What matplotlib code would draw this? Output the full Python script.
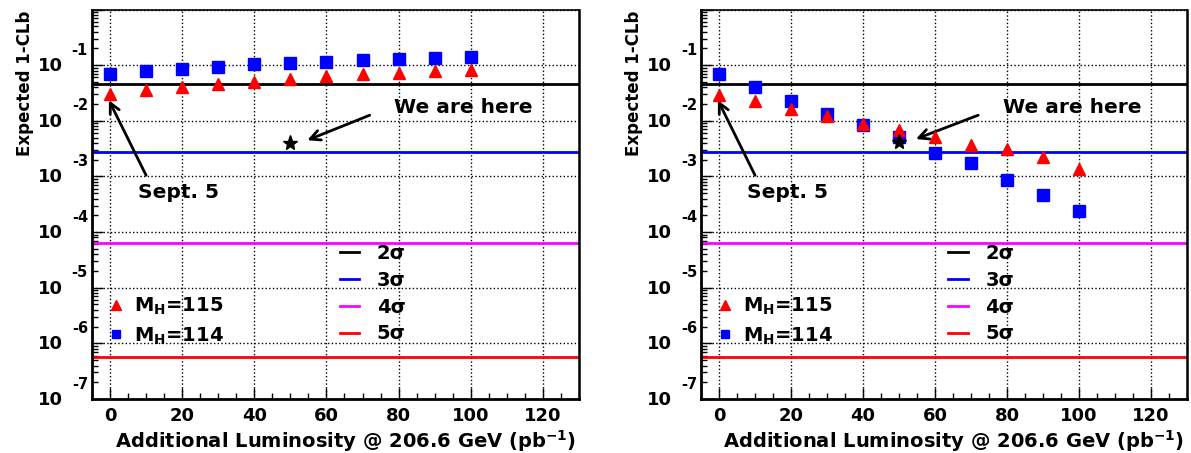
import numpy as np
import matplotlib
matplotlib.use("Agg")
import matplotlib.pyplot as plt
from matplotlib.ticker import MultipleLocator, LogLocator, NullFormatter

plt.rcParams['font.family'] = ['DejaVu Sans']
plt.rcParams['font.weight'] = 'bold'
plt.rcParams['mathtext.fontset'] = 'dejavusans'
plt.rcParams['mathtext.default'] = 'bf'

# additional luminosity points (pb^-1)
lumi = [0, 10, 20, 30, 40, 50, 60, 70, 80, 90, 100]

# expected 1-CLb, left panel
left_mh115 = [0.030, 0.0355, 0.040, 0.046, 0.050, 0.057, 0.063, 0.069, 0.073, 0.078, 0.082]
left_mh114 = [0.069, 0.077, 0.085, 0.093, 0.103, 0.111, 0.115, 0.122, 0.127, 0.134, 0.141]

# expected 1-CLb, right panel
right_mh115 = [0.029, 0.023, 0.0166, 0.0121, 0.0089, 0.0068, 0.0051, 0.0036, 0.0031, 0.0022, 0.00136]
right_mh114 = [0.069, 0.040, 0.0228, 0.0135, 0.0083, 0.0051, 0.0026, 0.00175, 0.00085, 0.00046, 0.00024]

# "we are here" star
star_lumi = 50
left_star = 0.0040
right_star = 0.0042

# significance lines
sigma_labels = ['2σ', '3σ', '4σ', '5σ']
sigma_pvalues = [0.0455, 0.0027, 6.33e-5, 5.73e-7]
sigma_colors = ['black', 'blue', '#ff00ff', 'red']

decades = [-7, -6, -5, -4, -3, -2, -1]

# annotation anchors (data coords)
here_text = (98, 0.0176)
here_tail = (72, 0.0126)
sept_text = (19, 5.2e-4)
sept_tail = (10, 1.05e-3)
sept_head = (-0.3, 0.0234)


def draw_panel(ax, mh115, mh114, star_value):
    ax.set_yscale('log')
    ax.set_xlim(-5, 130)
    ax.set_ylim(1e-7, 1)

    ax.grid(True, which='major', color='black', linestyle=':', linewidth=1)

    lines = []
    for p, c, lab in zip(sigma_pvalues, sigma_colors, sigma_labels):
        ln = ax.axhline(p, color=c, lw=2, label=lab, zorder=2)
        lines.append(ln)

    sq, = ax.plot(lumi, mh114, 's', color='blue', ms=8, zorder=3)
    tri, = ax.plot(lumi, mh115, '^', color='red', ms=9, zorder=4)
    ax.plot([star_lumi], [star_value], '*', color='black', ms=11, zorder=5)

    # arrows + labels
    arrow = dict(arrowstyle='->', lw=2, color='black',
                 mutation_scale=18, shrinkA=0, shrinkB=0)
    ax.annotate('', xy=(star_lumi + 4.7, star_value * 1.12), xytext=here_tail,
                arrowprops=arrow)
    ax.text(*here_text, 'We are here', ha='center', va='center', fontsize=14.5)
    ax.annotate('', xy=sept_head, xytext=sept_tail, arrowprops=arrow)
    ax.text(*sept_text, 'Sept. 5', ha='center', va='center', fontsize=14.5)

    leg1 = ax.legend(handles=lines, loc='upper left', bbox_to_anchor=(0.509, 0.398),
                     frameon=False, fontsize=14, handlelength=1.0, handletextpad=0.9,
                     labelspacing=0.4, borderpad=0, borderaxespad=0)
    ax.add_artist(leg1)
    ax.legend(handles=[tri, sq], labels=['$M_H$=115', '$M_H$=114'],
              loc='upper left', bbox_to_anchor=(0.033, 0.264), frameon=False,
              fontsize=14, handlelength=0.8, handletextpad=0.55, labelspacing=0.4,
              borderpad=0, borderaxespad=0, markerscale=0.75)

    ax.xaxis.set_major_locator(MultipleLocator(20))
    ax.xaxis.set_minor_locator(MultipleLocator(5))
    ax.yaxis.set_major_locator(LogLocator(base=10, numticks=20))
    ax.yaxis.set_minor_locator(LogLocator(base=10, subs=np.arange(2, 10), numticks=20))
    ax.yaxis.set_major_formatter(NullFormatter())
    ax.yaxis.set_minor_formatter(NullFormatter())
    ax.tick_params(which='both', direction='in', top=False, right=False)
    ax.tick_params(which='major', length=8, width=1)
    ax.tick_params(which='minor', length=4, width=1)
    ax.tick_params(axis='x', labelsize=13, pad=6)

    for k in decades:
        ax.annotate('10', xy=(0, 10.0 ** k), xycoords=('axes fraction', 'data'),
                    xytext=(-29, -1), textcoords='offset pixels',
                    ha='right', va='center', fontsize=13)
        ax.annotate(str(k), xy=(0, 10.0 ** k), xycoords=('axes fraction', 'data'),
                    xytext=(-4, 15), textcoords='offset pixels',
                    ha='right', va='center', fontsize=10.5)

    for s in ax.spines.values():
        s.set_linewidth(1.2)
    ax.spines['left'].set_linewidth(2)
    ax.spines['bottom'].set_linewidth(2)
    ax.spines['right'].set_linewidth(1.8)

    ax.text(-0.1376, 0.998, 'Expected 1-CLb', transform=ax.transAxes,
            rotation=90, ha='center', va='top', fontsize=12)
    ax.text(0.994, -0.075, 'Additional Luminosity @ 206.6 GeV (pb$^{-1}$)',
            transform=ax.transAxes, ha='right', va='top', fontsize=14)


fig = plt.figure(figsize=(11.91, 4.53), dpi=100)
ax_left = fig.add_axes([0.0772, 0.1192, 0.4089, 0.8598])
ax_right = fig.add_axes([0.5886, 0.1192, 0.4080, 0.8598])

draw_panel(ax_left, left_mh115, left_mh114, left_star)
draw_panel(ax_right, right_mh115, right_mh114, right_star)

fig.savefig('out.png', dpi=100)
